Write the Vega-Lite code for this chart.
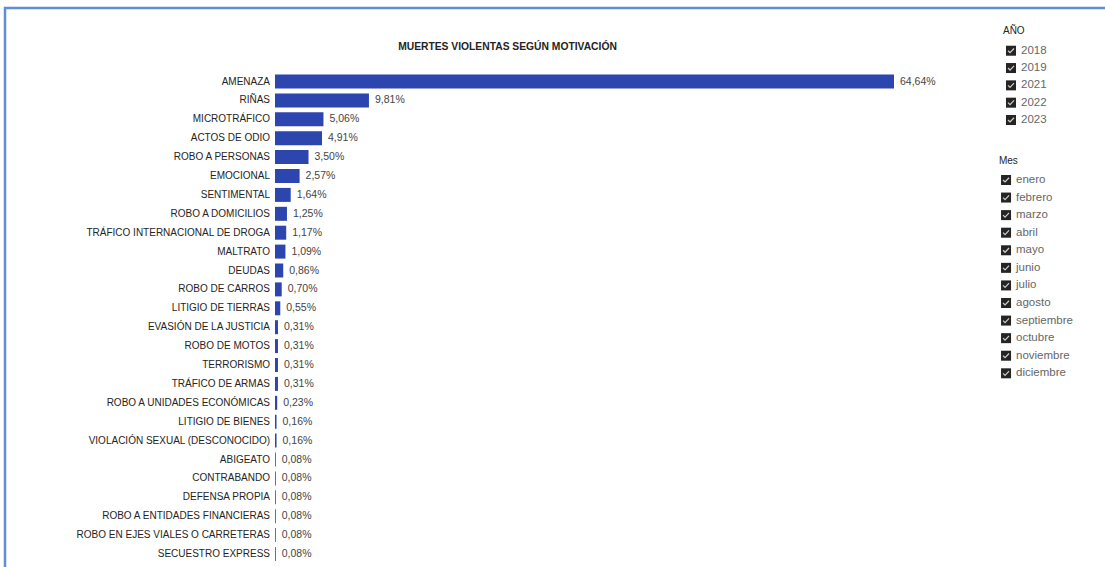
{
  "$schema": "https://vega.github.io/schema/vega-lite/v6.json",
  "width": 1103,
  "height": 562,
  "autosize": {"type": "none"},
  "padding": {"left": 5, "top": 8, "right": -3, "bottom": -3},
  "background": "white",
  "config": {
    "view": {"stroke": "#5d8fd5", "strokeWidth": 2.5},
    "font": "Liberation Sans",
    "locale": {"number": {"decimal": ",", "thousands": ".", "grouping": [3], "currency": ["", " €"]}}
  },
  "title": {
    "text": "MUERTES VIOLENTAS SEGÚN MOTIVACIÓN",
    "anchor": "middle",
    "frame": "group",
    "orient": "top",
    "offset": -49,
    "baseline": "middle",
    "dx": -49,
    "fontSize": 10.3,
    "fontWeight": "bold",
    "color": "#252423"
  },
  "datasets": {
    "motivos": [
      {"motivo": "AMENAZA", "pct": 0.6464},
      {"motivo": "RIÑAS", "pct": 0.0981},
      {"motivo": "MICROTRÁFICO", "pct": 0.0506},
      {"motivo": "ACTOS DE ODIO", "pct": 0.0491},
      {"motivo": "ROBO A PERSONAS", "pct": 0.0350},
      {"motivo": "EMOCIONAL", "pct": 0.0257},
      {"motivo": "SENTIMENTAL", "pct": 0.0164},
      {"motivo": "ROBO A DOMICILIOS", "pct": 0.0125},
      {"motivo": "TRÁFICO INTERNACIONAL DE DROGA", "pct": 0.0117},
      {"motivo": "MALTRATO", "pct": 0.0109},
      {"motivo": "DEUDAS", "pct": 0.0086},
      {"motivo": "ROBO DE CARROS", "pct": 0.0070},
      {"motivo": "LITIGIO DE TIERRAS", "pct": 0.0055},
      {"motivo": "EVASIÓN DE LA JUSTICIA", "pct": 0.0031},
      {"motivo": "ROBO DE MOTOS", "pct": 0.0031},
      {"motivo": "TERRORISMO", "pct": 0.0031},
      {"motivo": "TRÁFICO DE ARMAS", "pct": 0.0031},
      {"motivo": "ROBO A UNIDADES ECONÓMICAS", "pct": 0.0023},
      {"motivo": "LITIGIO DE BIENES", "pct": 0.0016},
      {"motivo": "VIOLACIÓN SEXUAL (DESCONOCIDO)", "pct": 0.0016},
      {"motivo": "ABIGEATO", "pct": 0.0008},
      {"motivo": "CONTRABANDO", "pct": 0.0008},
      {"motivo": "DEFENSA PROPIA", "pct": 0.0008},
      {"motivo": "ROBO A ENTIDADES FINANCIERAS", "pct": 0.0008},
      {"motivo": "ROBO EN EJES VIALES O CARRETERAS", "pct": 0.0008},
      {"motivo": "SECUESTRO EXPRESS", "pct": 0.0008}
    ],
    "anio": [
      {"item": "AÑO", "tipo": "titulo"},
      {"item": "2018", "tipo": "opcion"},
      {"item": "2019", "tipo": "opcion"},
      {"item": "2021", "tipo": "opcion"},
      {"item": "2022", "tipo": "opcion"},
      {"item": "2023", "tipo": "opcion"}
    ],
    "mes": [
      {"item": "Mes", "tipo": "titulo"},
      {"item": "enero", "tipo": "opcion"},
      {"item": "febrero", "tipo": "opcion"},
      {"item": "marzo", "tipo": "opcion"},
      {"item": "abril", "tipo": "opcion"},
      {"item": "mayo", "tipo": "opcion"},
      {"item": "junio", "tipo": "opcion"},
      {"item": "julio", "tipo": "opcion"},
      {"item": "agosto", "tipo": "opcion"},
      {"item": "septiembre", "tipo": "opcion"},
      {"item": "octubre", "tipo": "opcion"},
      {"item": "noviembre", "tipo": "opcion"},
      {"item": "diciembre", "tipo": "opcion"}
    ]
  },
  "layer": [
    {
      "data": {"name": "motivos"},
      "encoding": {
        "y": {
          "field": "motivo", "type": "nominal", "sort": null, "axis": null,
          "scale": {"range": [64.05, 555.45], "paddingInner": 0.26, "paddingOuter": 0.13}
        }
      },
      "layer": [
        {
          "mark": {"type": "bar", "color": "#2d45ae"},
          "encoding": {
            "x": {"field": "pct", "type": "quantitative", "axis": null,
                  "scale": {"domain": [0, 0.6464], "range": [270, 889], "nice": false, "zero": true}}
          }
        },
        {
          "mark": {"type": "text", "align": "right", "baseline": "middle", "dx": -5, "fontSize": 10, "color": "#252423"},
          "encoding": {
            "x": {"datum": 0, "type": "quantitative", "axis": null},
            "text": {"field": "motivo", "type": "nominal"}
          }
        },
        {
          "mark": {"type": "text", "align": "left", "baseline": "middle", "dx": 6, "fontSize": 10.5, "color": "#444444"},
          "encoding": {
            "x": {"field": "pct", "type": "quantitative", "axis": null},
            "text": {"field": "pct", "type": "quantitative", "format": ".2%"}
          }
        }
      ]
    },
    {
      "data": {"name": "anio"},
      "encoding": {
        "y": {
          "field": "item", "type": "nominal", "sort": null, "axis": null,
          "scale": {"type": "point", "domain": ["AÑO", "2018", "2019", "2021", "2022", "2023"], "range": [25.4, 112], "padding": 0}
        }
      },
      "layer": [
        {
          "transform": [{"filter": "datum.tipo === 'titulo'"}],
          "mark": {"type": "text", "align": "left", "baseline": "middle", "dy": -2, "fontSize": 10, "color": "#252423"},
          "encoding": {
            "x": {"datum": 0.7602, "type": "quantitative", "axis": null},
            "text": {"field": "item", "type": "nominal"}
          }
        },
        {
          "transform": [{"filter": "datum.tipo === 'opcion'"}],
          "mark": {"type": "point", "shape": "square", "filled": true, "size": 100, "color": "#252423", "opacity": 1},
          "encoding": {
            "x": {"datum": 0.7686, "type": "quantitative", "axis": null}
          }
        },
        {
          "transform": [{"filter": "datum.tipo === 'opcion'"}],
          "mark": {"type": "point", "shape": "M -0.6 0 L -0.2 0.4 L 0.6 -0.45", "filled": false, "size": 100, "stroke": "#d0d0d0", "strokeWidth": 1.2, "opacity": 1},
          "encoding": {
            "x": {"datum": 0.7686, "type": "quantitative", "axis": null}
          }
        },
        {
          "transform": [{"filter": "datum.tipo === 'opcion'"}],
          "mark": {"type": "text", "align": "left", "baseline": "middle", "fontSize": 11.5, "color": "#666666"},
          "encoding": {
            "x": {"datum": 0.779, "type": "quantitative", "axis": null},
            "text": {"field": "item", "type": "nominal"}
          }
        }
      ]
    },
    {
      "data": {"name": "mes"},
      "encoding": {
        "y": {
          "field": "item", "type": "nominal", "sort": null, "axis": null,
          "scale": {"type": "point", "domain": ["Mes", "enero", "febrero", "marzo", "abril", "mayo", "junio", "julio", "agosto", "septiembre", "octubre", "noviembre", "diciembre"], "range": [154.4, 365.3], "padding": 0}
        }
      },
      "layer": [
        {
          "transform": [{"filter": "datum.tipo === 'titulo'"}],
          "mark": {"type": "text", "align": "left", "baseline": "middle", "dy": -1.5, "fontSize": 10, "color": "#252423"},
          "encoding": {
            "x": {"datum": 0.756, "type": "quantitative", "axis": null},
            "text": {"field": "item", "type": "nominal"}
          }
        },
        {
          "transform": [{"filter": "datum.tipo === 'opcion'"}],
          "mark": {"type": "point", "shape": "square", "filled": true, "size": 100, "color": "#252423", "opacity": 1},
          "encoding": {
            "x": {"datum": 0.7634, "type": "quantitative", "axis": null}
          }
        },
        {
          "transform": [{"filter": "datum.tipo === 'opcion'"}],
          "mark": {"type": "point", "shape": "M -0.6 0 L -0.2 0.4 L 0.6 -0.45", "filled": false, "size": 100, "stroke": "#d0d0d0", "strokeWidth": 1.2, "opacity": 1},
          "encoding": {
            "x": {"datum": 0.7634, "type": "quantitative", "axis": null}
          }
        },
        {
          "transform": [{"filter": "datum.tipo === 'opcion'"}],
          "mark": {"type": "text", "align": "left", "baseline": "middle", "fontSize": 11.5, "color": "#666666"},
          "encoding": {
            "x": {"datum": 0.7738, "type": "quantitative", "axis": null},
            "text": {"field": "item", "type": "nominal"}
          }
        }
      ]
    }
  ],
  "resolve": {"scale": {"y": "independent"}}
}
